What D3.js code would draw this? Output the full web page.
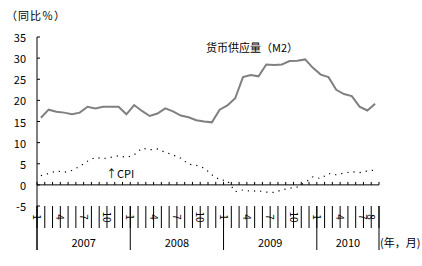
<!DOCTYPE html>
<html><head><meta charset="utf-8">
<script src="https://cdn.jsdelivr.net/npm/d3@7"></script>
<style>
html,body{margin:0;padding:0;background:#fff;}
svg{display:block;}
text{font-family:"Noto Sans CJK SC","DejaVu Sans",sans-serif;fill:#000;}
</style></head>
<body>
<svg id="chart" width="422" height="266"></svg>
<script>
const years = [2007, 2008, 2009, 2010];
const monthsInYear = [12, 12, 12, 8];
const labeledMonths = [1, 4, 7, 10];
const extraLabels = ["2010.8"];
const m2 = [15.9,17.8,17.3,17.1,16.7,17.1,18.5,18.1,18.5,18.5,18.5,16.7,
            18.9,17.5,16.3,16.9,18.1,17.4,16.4,16.0,15.3,15.0,14.8,17.8,
            18.8,20.5,25.5,26.0,25.7,28.5,28.4,28.5,29.3,29.4,29.7,27.7,
            26.1,25.5,22.5,21.5,21.0,18.5,17.6,19.2];
const cpi = [2.2,2.7,3.3,3.0,3.4,4.4,5.6,6.5,6.2,6.5,6.9,6.5,
             7.1,8.7,8.3,8.5,7.7,7.1,6.3,4.9,4.6,4.0,2.4,1.2,
             1.0,-1.6,-1.2,-1.5,-1.4,-1.7,-1.8,-1.2,-0.8,-0.5,0.6,1.9,
             1.5,2.7,2.4,2.8,3.1,2.9,3.3,3.5];
const yTicks = [-5,0,5,10,15,20,25,30,35];

const categories = [];
years.forEach((yr,i)=>{ for(let m=1;m<=monthsInYear[i];m++) categories.push(yr+"."+m); });

const svg = d3.select("#chart");
const x = d3.scaleBand().domain(categories).range([37, 379]).padding(0);
const y = d3.scaleLinear().domain([-5, 35]).range([206, 37]);
const bw = x.bandwidth();

// y axis line
svg.append("line").attr("x1",37).attr("x2",37).attr("y1",y(35)).attr("y2",250)
  .attr("stroke","#000").attr("stroke-width",1);
// y ticks
svg.selectAll(".yt").data(yTicks).enter().append("line")
  .attr("x1",37).attr("x2",40).attr("y1",d=>y(d)).attr("y2",d=>y(d))
  .attr("stroke","#000");
svg.selectAll(".yl").data(yTicks).enter().append("text")
  .attr("x",26).attr("y",d=>y(d)).attr("text-anchor","end")
  .attr("dominant-baseline","central").attr("font-size",11).text(d=>d);

// zero axis
svg.append("line").attr("x1",37).attr("x2",379).attr("y1",y(0)).attr("y2",y(0))
  .attr("stroke","#000").attr("stroke-width",1);
const bounds = categories.map(c=>x(c)).concat([x(categories[categories.length-1])+bw]);
svg.selectAll(".zt").data(bounds).enter().append("line")
  .attr("x1",d=>d).attr("x2",d=>d).attr("y1",y(0)).attr("y2",y(0)-3)
  .attr("stroke","#000");

// month separators
svg.selectAll(".ms").data(bounds).enter().append("line")
  .attr("x1",d=>d).attr("x2",d=>d).attr("y1",206).attr("y2",228)
  .attr("stroke","#000");
// year separators
const yearBounds = [];
let acc = 0;
yearBounds.push(categories[0]);
monthsInYear.forEach((n,i)=>{ acc += n; if(acc<categories.length) yearBounds.push(categories[acc]); });
const ybx = yearBounds.map(c=>x(c)).concat([x(categories[categories.length-1])+bw]);
svg.selectAll(".ys").data(ybx).enter().append("line")
  .attr("x1",d=>d).attr("x2",d=>d).attr("y1",206).attr("y2",250)
  .attr("stroke","#000");

// month labels (rotated)
const mlabels = categories.filter(c=>labeledMonths.includes(+c.split(".")[1]) || extraLabels.includes(c));
svg.selectAll(".ml").data(mlabels).enter().append("text")
  .attr("transform",d=>`translate(${x(d)+0.5},217) rotate(90)`)
  .attr("text-anchor","middle").attr("dominant-baseline","central")
  .attr("font-size",10).text(d=>d.split(".")[1]);

// year labels
svg.selectAll(".yrl").data(years).enter().append("text")
  .attr("x",(d,i)=>(ybx[i]+ybx[i+1])/2).attr("y",242)
  .attr("text-anchor","middle").attr("dominant-baseline","central")
  .attr("font-size",11).text(d=>d);

// lines
const line = d3.line().x((d,i)=>x(categories[i])+bw/2).y(d=>y(d));
svg.append("path").datum(m2).attr("d",line).attr("fill","none")
  .attr("stroke","#808080").attr("stroke-width",2);
svg.append("path").datum(cpi).attr("d",line).attr("fill","none")
  .attr("stroke","#000").attr("stroke-width",1.2).attr("stroke-dasharray","1.2,5");

// texts
svg.append("text").attr("x",6).attr("y",15).attr("dominant-baseline","central")
  .attr("font-size",11).attr("letter-spacing",1).text("（同比％）");
svg.append("text").attr("x",206).attr("y",47).attr("dominant-baseline","central")
  .attr("font-size",11).text("货币供应量（M2）");
svg.append("text").attr("x",106).attr("y",173).attr("dominant-baseline","central")
  .attr("font-size",11).text("↑CPI");
svg.append("text").attr("x",380).attr("y",242).attr("dominant-baseline","central")
  .attr("font-size",11).text("(年，月)");
</script>
</body></html>
